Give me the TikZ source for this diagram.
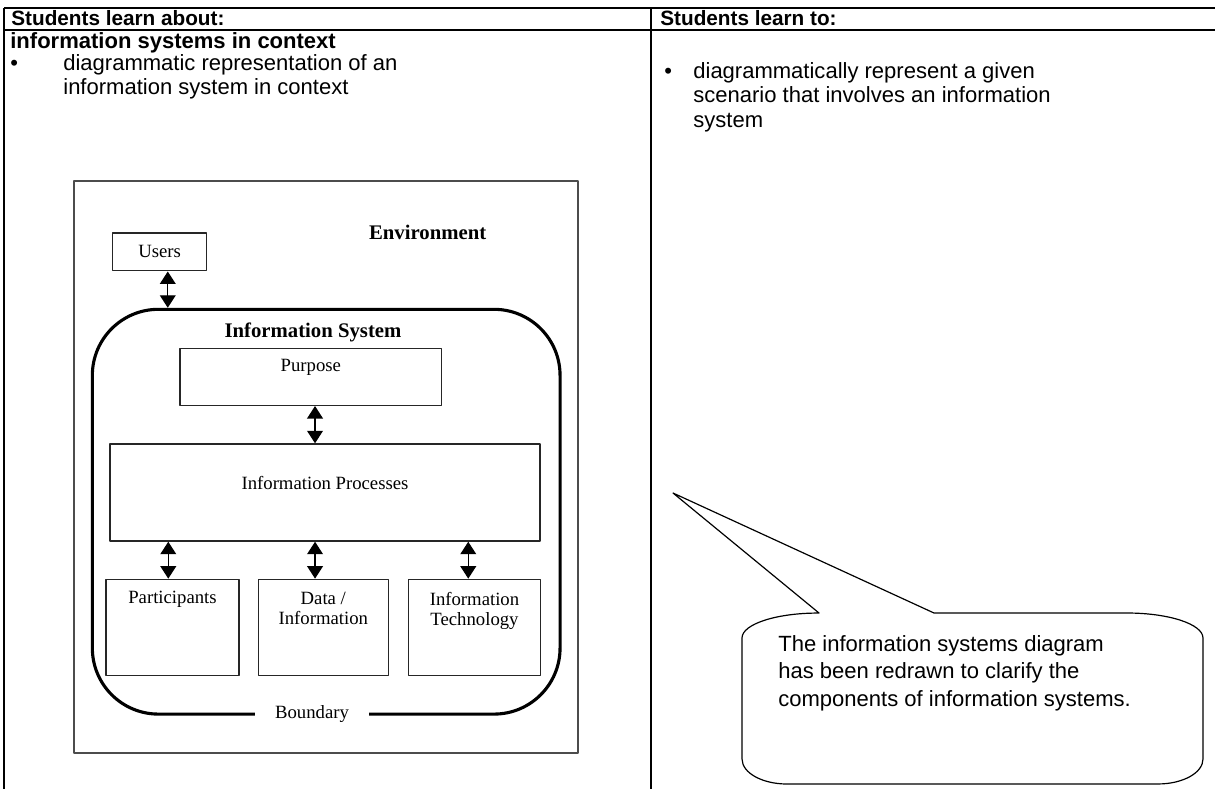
\documentclass[tikz,border=0pt]{standalone}
\usepackage{fontspec}
\setmainfont{Liberation Sans}
\newfontfamily\timesf{Liberation Serif}
\usetikzlibrary{arrows.meta,positioning}
\tikzset{
  cell/.style={line width=0.8pt},
  head/.style={anchor=base west, inner sep=0, font=\fontsize{11.3}{13}\selectfont\bfseries},
  body/.style={anchor=north west, inner sep=0, align=left, font=\fontsize{12}{13.4}\selectfont},
  bul/.style={anchor=base west, inner sep=0, font=\fontsize{12}{13.4}\selectfont},
  box/.style={draw=black!85, line width=0.75pt, inner sep=0},
  lbl/.style={inner sep=0, align=center, font=\fontsize{10.2}{10.9}\selectfont\timesf},
  blbl/.style={inner sep=0, font=\fontsize{11.3}{12}\selectfont\timesf\bfseries},
  dblarrow/.style={{Triangle[width=8.6pt,length=6.8pt]}-{Triangle[width=8.6pt,length=6.8pt]}, line width=0.7pt},
}
\begin{document}
\begin{tikzpicture}[x=0.545pt, y=-0.545pt, line join=round]
  \useasboundingbox (0,0) rectangle (1215,789);
  % table
  \draw[cell] (4,8) -- (1215,8) (4,30) -- (1215,30);
  \draw[cell] (4,8) -- (4,789) (651,8) -- (651,789);
  \node[head] (hleft) at (11,25) {Students learn about:};
  \node[head] (hright) at (660,25) {Students learn to:};
  \node[head, font=\fontsize{12}{13.4}\selectfont\bfseries] (topic) at (10,48) {information systems in context};
  \node[bul] (bl) at (10,70) {\textbullet};
  \node[body] (aboutl) at (63,54) {diagrammatic representation of an\\information system in context};
  \node[bul] (br) at (664,78) {\textbullet};
  \node[body] (tor) at (693,62) {diagrammatically represent a given\\scenario that involves an information\\system};
  % picture of the information system
  \draw[draw=black!70, line width=0.9pt] (74,181) rectangle (578,753);
  \node[box, minimum width=51.2pt, minimum height=20.7pt] (users) at (159.7,251.8) {};
  \node[lbl] at (users) {Users};
  \node[blbl, anchor=base] (env) at (427.7,239.5) {Environment};
  \node[draw, line width=1.7pt, rounded corners=36pt, minimum width=254.9pt, minimum height=220.6pt] (isys) at (326.2,511.7) {};
  \node[blbl, anchor=base] (istitle) at (313,337.5) {Information System};
  \node[lbl, fill=white, minimum width=62pt, minimum height=8pt] (bound) at (312,714) {Boundary};
  \node[box, minimum width=142.6pt, minimum height=31.1pt] (purpose) at (310.8,376.8) {};
  \node[lbl, below=5.9pt of purpose.north] {Purpose};
  \node[box, minimum width=234.4pt, minimum height=52.9pt] (ip) at (325,492.5) {};
  \node[lbl, below=17.8pt of ip.north] {Information Processes};
  \node[box, minimum width=72.5pt, minimum height=52.3pt] (part) at (172.5,627.3) {};
  \node[lbl, below=6.8pt of part.north] {Participants};
  \node[box, minimum width=70.9pt, minimum height=52.3pt] (data) at (323.3,627.3) {};
  \node[lbl, below=7pt of data.north] {Data /\\Information};
  \node[box, minimum width=71.7pt, minimum height=52.3pt] (it) at (474.5,627.3) {};
  \node[lbl, below=7pt of it.north] {Information\\Technology};
  \draw[dblarrow] ([xshift=4.4pt]users.south) -- ([xshift=4.4pt]users.south |- isys.north);
  \draw[dblarrow] ([xshift=2.3pt]purpose.south) -- ([xshift=2.3pt]purpose.south |- ip.north);
  \draw[dblarrow] ([xshift=-2.3pt]part.north |- ip.south) -- ([xshift=-2.3pt]part.north);
  \draw[dblarrow] ([xshift=-4.5pt]data.north |- ip.south) -- ([xshift=-4.5pt]data.north);
  \draw[dblarrow] ([xshift=-3.4pt]it.north |- ip.south) -- ([xshift=-3.4pt]it.north);
  % callout
  \draw[line width=0.65pt] (819,613) -- (673,493) -- (934,613) -- (1127,613)
    arc[start angle=90, end angle=0, x radius=41.4pt, y radius=13.6pt] -- (1203,759)
    arc[start angle=0, end angle=-90, x radius=24.5pt, y radius=13.6pt] -- (787,784)
    arc[start angle=270, end angle=180, x radius=24.5pt, y radius=13.6pt] -- (742,638)
    arc[start angle=180, end angle=90, x radius=41.4pt, y radius=13.6pt] -- cycle;
  \node[body, font=\fontsize{12}{15}\selectfont] (note) at (778,635) {The information systems diagram\\has been redrawn to clarify the\\components of information systems.};
\end{tikzpicture}
\end{document}
